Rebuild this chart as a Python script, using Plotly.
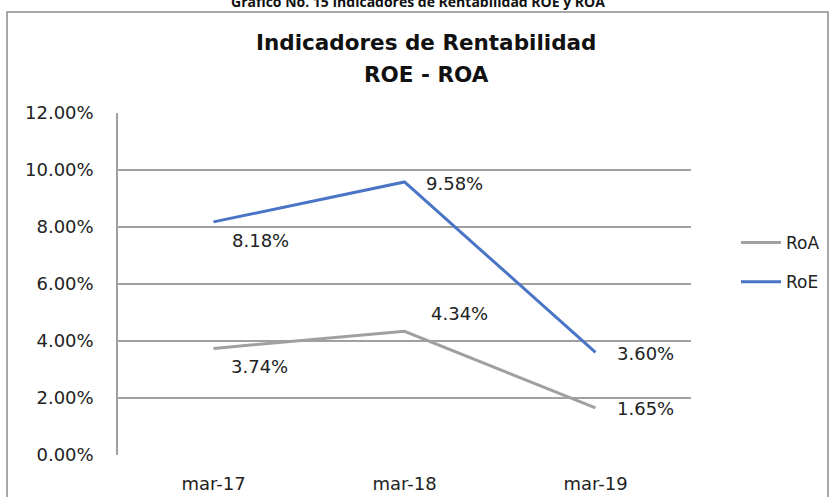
import plotly.graph_objects as go

categories = ["mar-17", "mar-18", "mar-19"]
roa = [0.0374, 0.0434, 0.0165]
roe = [0.0818, 0.0958, 0.0360]
roa_labels = ["3.74%", "4.34%", "1.65%"]
roe_labels = ["8.18%", "9.58%", "3.60%"]
y_ticks = [0, 0.02, 0.04, 0.06, 0.08, 0.10, 0.12]

W, H = 833, 497
L, R, T, B = 118, 142, 113, 42
pw = W - L - R
ph = H - T - B

def px_x(x):
    return (x - L) / pw

def px_y(y):
    return (H - B - y) / ph

fig = go.Figure()
fig.add_trace(go.Scatter(x=categories, y=roa, mode="lines", name="RoA",
                         line=dict(color="#A0A0A0", width=3), legendgroup="a"))
fig.add_trace(go.Scatter(x=categories, y=roe, mode="lines", name="RoE",
                         line=dict(color="#4A74C6", width=3), legendgroup="e"))

label_font = dict(family="DejaVu Sans", size=18, color="#222222")
roe_shift = [(47, -19), (50, -2), (50, -1)]
roa_shift = [(46, -18), (55, 18), (50, -1)]
for c, v, t, (dx, dy) in zip(categories, roe, roe_labels, roe_shift):
    fig.add_annotation(x=c, y=v, text=t, showarrow=False, xshift=dx, yshift=dy,
                       font=label_font)
for c, v, t, (dx, dy) in zip(categories, roa, roa_labels, roa_shift):
    fig.add_annotation(x=c, y=v, text=t, showarrow=False, xshift=dx, yshift=dy,
                       font=label_font)

# outer border
fig.add_shape(type="rect", xref="paper", yref="paper",
              x0=px_x(7), x1=px_x(828), y0=px_y(505), y1=px_y(12),
              line=dict(color="#8C8C8C", width=1.5), fillcolor="rgba(0,0,0,0)", layer="below")

# titles
title_font = dict(family="DejaVu Sans", size=21.5, color="#111111")
fig.add_annotation(xref="paper", yref="paper", x=px_x(426), y=px_y(43),
                   text="<b>Indicadores de Rentabilidad</b>", showarrow=False,
                   font=title_font, xanchor="center", yanchor="middle")
fig.add_annotation(xref="paper", yref="paper", x=px_x(426), y=px_y(75),
                   text="<b>ROE - ROA</b>", showarrow=False,
                   font=title_font, xanchor="center", yanchor="middle")
fig.add_annotation(xref="paper", yref="paper", x=px_x(418), y=px_y(1),
                   text="<b>Gráfico No. 15 Indicadores de Rentabilidad ROE y ROA</b>", showarrow=False,
                   font=dict(family="Open Sans", size=14, color="#111111"),
                   xanchor="center", yanchor="middle")

fig.update_layout(
    width=W, height=H,
    margin=dict(l=L, r=R, t=T, b=B, autoexpand=False),
    paper_bgcolor="white", plot_bgcolor="white",
    showlegend=True,
    legend=dict(x=px_x(736), y=px_y(225), xanchor="left", yanchor="top",
                font=dict(family="DejaVu Sans", size=17, color="#222222"),
                tracegroupgap=14, traceorder="grouped", itemwidth=40,
                bgcolor="rgba(0,0,0,0)"),
    xaxis=dict(type="category", range=[-0.5, 2.5], showgrid=False, showline=False,
               ticks="", ticklabelstandoff=16,
               tickfont=dict(family="DejaVu Sans", size=18, color="#222222")),
    yaxis=dict(range=[0, 0.12], tickvals=y_ticks, tickformat=".2%",
               showgrid=True, gridcolor="#A0A0A0", gridwidth=1.5,
               showline=True, linecolor="#A0A0A0", linewidth=1.5,
               zeroline=False, ticks="", ticklabelstandoff=19,
               tickfont=dict(family="DejaVu Sans", size=18, color="#222222")),
)

fig.write_html("out.html", config={"displayModeBar": False},
               post_script="document.body.style.margin='0';document.body.style.overflow='hidden';")
